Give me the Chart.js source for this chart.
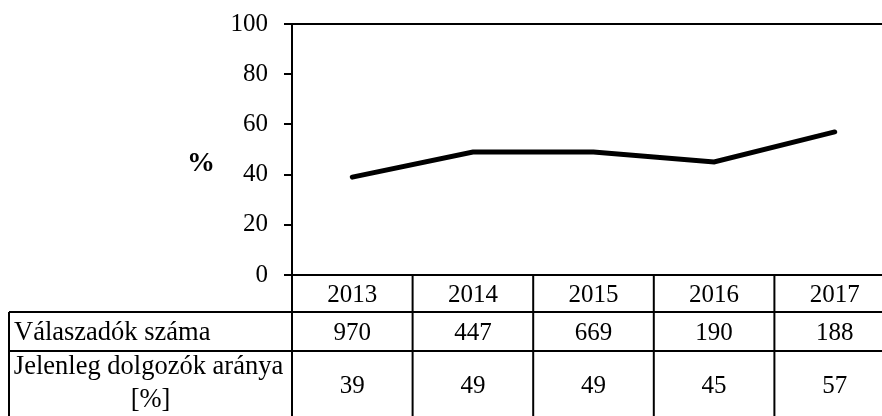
<!DOCTYPE html>
<html><head><meta charset="utf-8">
<script src="https://cdn.jsdelivr.net/npm/chart.js@4"></script>
<style>
html,body{margin:0;padding:0;background:#fff;overflow:hidden;}
#wrap{width:882px;height:416px;overflow:hidden;position:relative;background:#fff;}
canvas{display:block;}
</style></head><body>
<div id="wrap"><canvas id="c" width="895" height="430"></canvas></div>
<script>
// ---- data ----
const years = ['2013', '2014', '2015', '2016', '2017'];
const respondents = [970, 447, 669, 190, 188];
const employedShare = [39, 49, 49, 45, 57];
const yTicks = [0, 20, 40, 60, 80, 100];
const rowLabelRespondents = 'Válaszadók száma';
const rowLabelShare = ['Jelenleg dolgozók aránya', '[%]'];
const yAxisLabel = '%';

const FONT = '"Liberation Serif", "Times New Roman", serif';

const tablePlugin = {
  id: 'dataTable',
  afterDraw(chart) {
    const ctx = chart.ctx;
    const xs = chart.scales.x;
    const area = chart.chartArea;
    const W = chart.width, H = chart.height;
    const n = years.length;
    const colW = xs.getPixelForValue(1) - xs.getPixelForValue(0);
    const edges = [];
    for (let i = 0; i <= n; i++) edges.push(xs.getPixelForValue(0) - colW / 2 + i * colW);
    const top = area.bottom;
    const r1 = top + 37, r2 = 351;
    const tableLeft = 9;
    ctx.save();
    ctx.strokeStyle = '#000';
    ctx.lineWidth = 2;
    const line = (x1, y1, x2, y2) => { ctx.beginPath(); ctx.moveTo(x1, y1); ctx.lineTo(x2, y2); ctx.stroke(); };
    line(area.left, area.top, W, area.top);
    line(area.left, area.bottom, W, area.bottom);
    edges.forEach(e => line(e, top, e, H));
    line(tableLeft, r1, tableLeft, H);
    [r1, r2].forEach(y => line(tableLeft, y, W, y));

    ctx.fillStyle = '#000';
    ctx.font = '25px ' + FONT;
    ctx.textBaseline = 'alphabetic';
    ctx.textAlign = 'center';
    years.forEach((y, i) => ctx.fillText(y, xs.getPixelForValue(i), 302));
    respondents.forEach((v, i) => ctx.fillText(String(v), xs.getPixelForValue(i), 340));
    employedShare.forEach((v, i) => ctx.fillText(String(v), xs.getPixelForValue(i), 393));

    ctx.font = '26.5px ' + FONT;
    ctx.textAlign = 'left';
    ctx.fillText(rowLabelRespondents, tableLeft + 5, 340);
    ctx.textAlign = 'center';
    const mid = (tableLeft + area.left) / 2 - 2;
    ctx.fillText(rowLabelShare[0], mid, 374);
    ctx.fillText(rowLabelShare[1], mid + 2, 407);

    ctx.font = 'bold 28px ' + FONT;
    ctx.fillText(yAxisLabel, 201, 171);
    ctx.restore();
  }
};

new Chart(document.getElementById('c'), {
  type: 'line',
  data: {
    labels: years,
    datasets: [{
      data: employedShare,
      borderColor: '#000',
      borderWidth: 5,
      pointRadius: 0,
      tension: 0,
      borderCapStyle: 'round',
      fill: false
    }]
  },
  options: {
    responsive: false,
    animation: false,
    devicePixelRatio: 1,
    layout: { padding: { top: 24, left: 0, right: 0, bottom: 155 } },
    plugins: { legend: { display: false }, tooltip: { enabled: false } },
    scales: {
      x: { display: false, offset: true },
      y: {
        min: 0, max: 100,
        afterBuildTicks: (s) => { s.ticks = yTicks.map(v => ({ value: v })); },
        afterFit: (s) => { s.width = 292; s.paddingTop = 0; s.paddingBottom = 0; },
        ticks: { color: '#000', font: { family: FONT, size: 25 }, padding: 16 },
        grid: { drawOnChartArea: false, drawTicks: true, tickLength: 8, color: '#000', lineWidth: 2 },
        border: { display: true, color: '#000', width: 2 }
      }
    }
  },
  plugins: [tablePlugin]
});
</script>
</body></html>
